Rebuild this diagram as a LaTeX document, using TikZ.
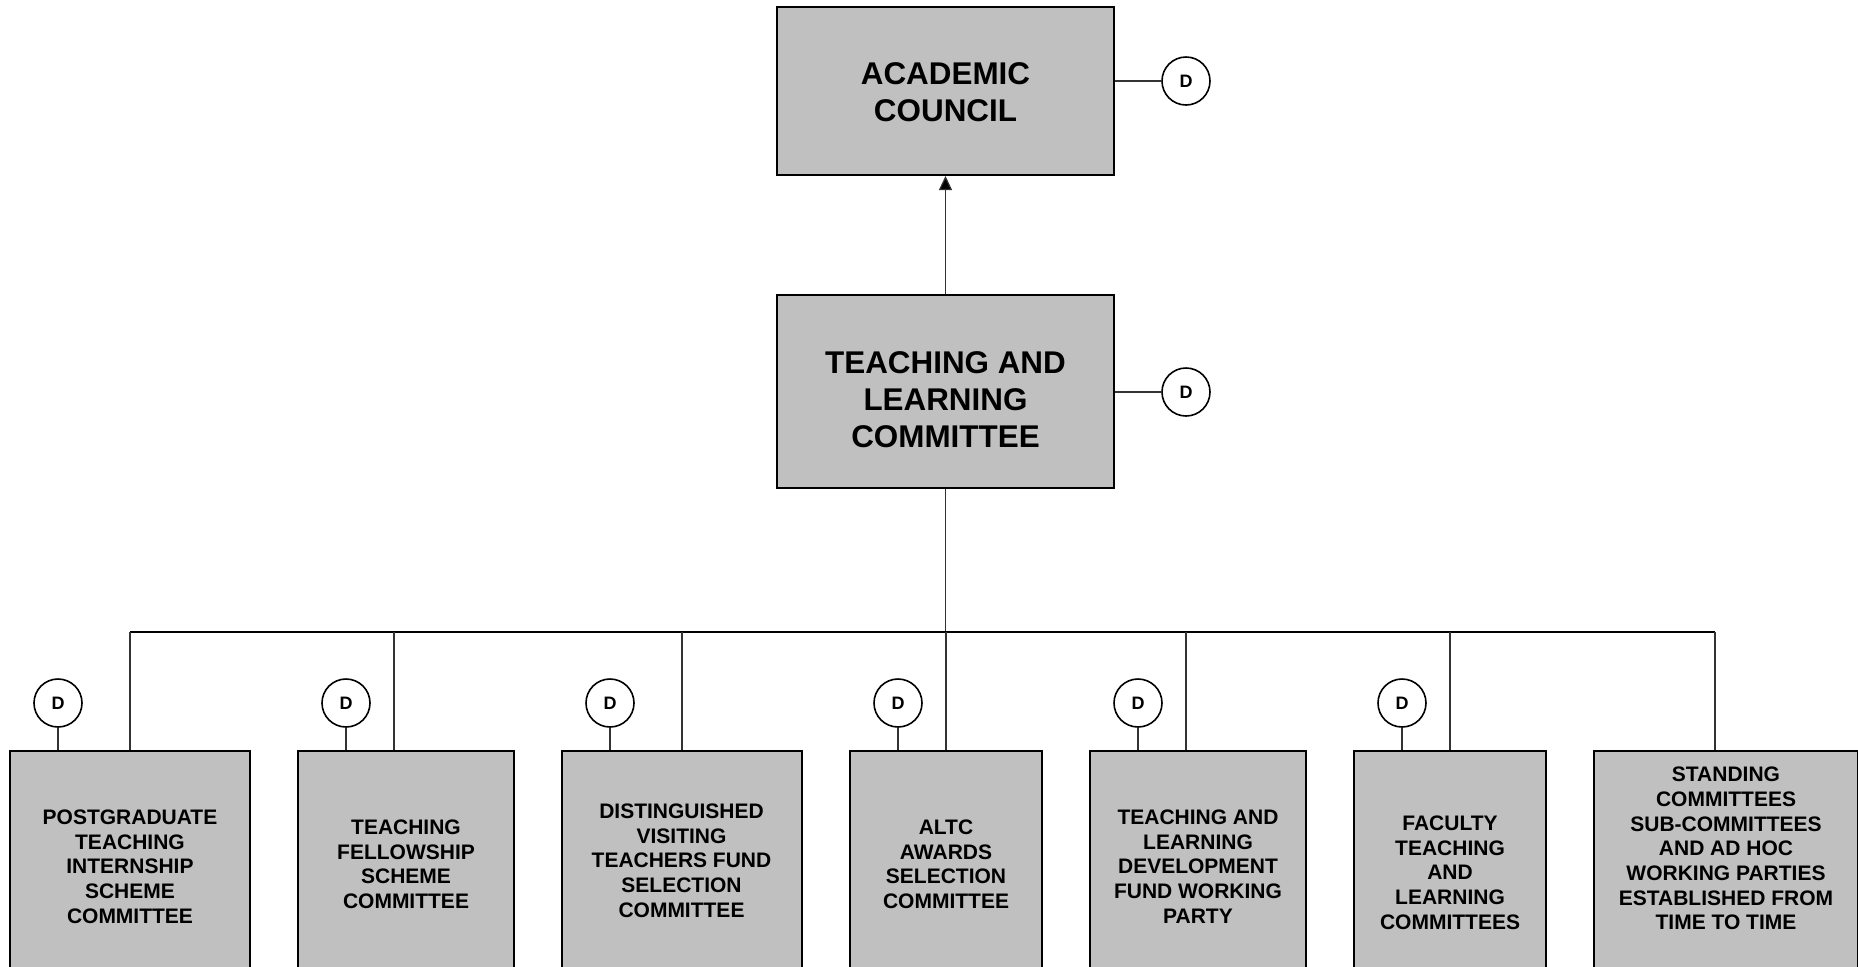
\documentclass[tikz,border=0pt]{standalone}
\usepackage{fontspec}
\setmainfont{Liberation Sans}
\usetikzlibrary{arrows.meta}
\definecolor{boxgray}{RGB}{192,192,192}
\tikzset{
  unit/.style={draw, line width=1pt, fill=boxgray, inner sep=0pt, align=center,
    font=\bfseries\fontsize{15.7}{18.6}\selectfont},
  sub/.style={unit, minimum height=109.5pt,
    font=\bfseries\fontsize{10.5}{12.35}\selectfont},
  dmark/.style={circle, draw, line width=0.8pt, fill=white, minimum size=24pt,
    inner sep=0pt, font=\bfseries\fontsize{9}{9}\selectfont},
  link/.style={line width=0.6pt, draw=black!80}
}
\begin{document}
\begin{tikzpicture}[x=0.5pt,y=-0.5pt]
    \useasboundingbox (0,0) rectangle (1858,966);
    \clip (0,0) rectangle (1858,966);
    % upper levels
    \node (ac) at (945.5,91) [unit, minimum width=168.5pt, minimum height=84pt,
    text height=30.8pt, text depth=0pt] {ACADEMIC\\COUNCIL};
    \node (tlc) at (945.5,391.5) [unit, minimum width=168.5pt, minimum height=96.5pt,
    text height=55.9pt, text depth=0pt] {TEACHING AND\\LEARNING\\COMMITTEE};
    \node (dac) at (1186,81) [dmark] {D}; \node (dtlc) at (1186,392) [dmark] {D};
    \draw[link] (dac) -- (dac -| ac.east); \draw[link] (dtlc) -- (dtlc -| tlc.east);
    \draw[link, -{Triangle[length=7pt,width=6.5pt,fill=black]}] (tlc.north) -- (ac.south);
    % committees
    \node (pgt) at (130,860.5) [sub, minimum width=120pt, text height=62.8pt, text depth=0pt]
    {POSTGRADUATE\\TEACHING\\INTERNSHIP\\SCHEME\\COMMITTEE};
    \node (tfs) at (406,860.5) [sub, minimum width=108pt, text height=48pt, text depth=0pt]
    {TEACHING\\FELLOWSHIP\\SCHEME\\COMMITTEE};
    \node (dvt) at (681.5,860.5) [sub, minimum width=120pt]
    {DISTINGUISHED\\VISITING\\TEACHERS FUND\\SELECTION\\COMMITTEE};
    \node (altc) at (946,860.5) [sub, minimum width=96pt, text height=48pt, text depth=0pt]
    {ALTC\\AWARDS\\SELECTION\\COMMITTEE};
    \node (tld) at (1198,860.5) [sub, minimum width=108pt, text height=62.8pt, text depth=0pt]
    {TEACHING AND\\LEARNING\\DEVELOPMENT\\FUND WORKING\\PARTY};
    \node (ftl) at (1450,860.5) [sub, minimum width=96pt, text height=68.8pt, text depth=0pt]
    {FACULTY\\TEACHING\\AND\\LEARNING\\COMMITTEES};
    \node (sc) at (1726,860.5) [sub, minimum width=132pt, text depth=12pt]
    {STANDING\\COMMITTEES\\SUB-COMMITTEES\\AND AD HOC\\WORKING PARTIES\\ESTABLISHED FROM\\TIME TO TIME};
    % D marks
    \node (dpgt) at (58,703) [dmark] {D}; \node (dtfs) at (346,703) [dmark] {D};
    \node (ddvt) at (610,703) [dmark] {D}; \node (daltc) at (898,703) [dmark] {D};
    \node (dtld) at (1138,703) [dmark] {D}; \node (dftl) at (1402,703) [dmark] {D};
    \draw[link] (dpgt) -- (dpgt |- pgt.north); \draw[link] (dtfs) -- (dtfs |- tfs.north);
    \draw[link] (ddvt) -- (ddvt |- dvt.north); \draw[link] (daltc) -- (daltc |- altc.north);
    \draw[link] (dtld) -- (dtld |- tld.north); \draw[link] (dftl) -- (dftl |- ftl.north);
    % bus
    \coordinate (bus) at (945.5,632);
    \coordinate (jpgt) at (130,632); \coordinate (jtfs) at (394,632);
    \coordinate (jdvt) at (682,632); \coordinate (jaltc) at (946,632);
    \coordinate (jtld) at (1186,632); \coordinate (jftl) at (1450,632);
    \coordinate (jsc) at (1715,632);
    \draw[link] (tlc.south) -- (bus); \draw[link, draw=black] (jpgt) -- (jsc);
    \draw[link] (jpgt) -- (jpgt |- pgt.north); \draw[link] (jtfs) -- (jtfs |- tfs.north);
    \draw[link] (jdvt) -- (jdvt |- dvt.north); \draw[link] (jaltc) -- (jaltc |- altc.north);
    \draw[link] (jtld) -- (jtld |- tld.north); \draw[link] (jftl) -- (jftl |- ftl.north);
    \draw[link] (jsc) -- (jsc |- sc.north);
  \end{tikzpicture}
\end{document}
